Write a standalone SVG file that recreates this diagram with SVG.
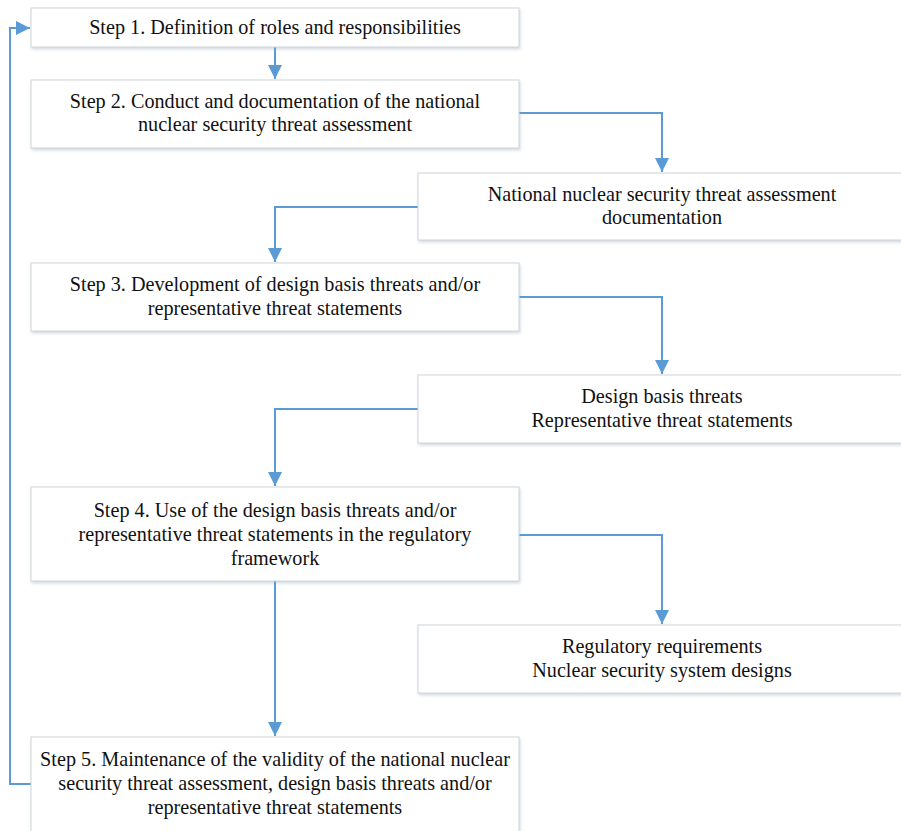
<svg xmlns="http://www.w3.org/2000/svg" width="901" height="831" viewBox="0 0 901 831">
<style>
.box{fill:#ffffff;stroke:#cfd4da;stroke-width:1;filter:url(#sh)}
.t{font-family:"Liberation Serif","Times New Roman",serif;font-size:20.2px;fill:#111;text-anchor:middle}
.c{fill:none;stroke:#5b9bd5;stroke-width:2}
</style>
<defs>
<filter id="sh" x="-5%" y="-20%" width="110%" height="150%">
<feDropShadow dx="1" dy="2" stdDeviation="1.5" flood-color="#8a9bb0" flood-opacity="0.35"/>
</filter>
<marker id="ah" viewBox="0 0 10 10" refX="10" refY="5" markerWidth="7" markerHeight="7" markerUnits="strokeWidth" orient="auto">
<path d="M0,0 L10,5 L0,10 z" fill="#5b9bd5"/>
</marker>
</defs>
<g id="connectors">
<path class="c" d="M275,47 V79" marker-end="url(#ah)"/>
<path class="c" d="M519,113 H662 V172" marker-end="url(#ah)"/>
<path class="c" d="M418,207 H275 V262" marker-end="url(#ah)"/>
<path class="c" d="M519,297 H662 V374" marker-end="url(#ah)"/>
<path class="c" d="M418,409 H275 V486" marker-end="url(#ah)"/>
<path class="c" d="M519,535 H662 V624" marker-end="url(#ah)"/>
<path class="c" d="M275,581 V736" marker-end="url(#ah)"/>
<path class="c" d="M31,784 H10 V28 H30" marker-end="url(#ah)"/>
</g>
<g id="step1">
<rect class="box" x="31" y="8" width="488" height="39"/>
<text class="t" x="275" y="34">Step 1. Definition of roles and responsibilities</text>
</g>
<g id="step2">
<rect class="box" x="31" y="80" width="488" height="68"/>
<text class="t" x="275" y="108">Step 2. Conduct and documentation of the national</text>
<text class="t" x="275" y="131">nuclear security threat assessment</text>
</g>
<g id="doc">
<rect class="box" x="418" y="173" width="490" height="67"/>
<text class="t" x="662" y="201">National nuclear security threat assessment</text>
<text class="t" x="662" y="224">documentation</text>
</g>
<g id="step3">
<rect class="box" x="31" y="263" width="488" height="68"/>
<text class="t" x="275" y="291">Step 3. Development of design basis threats and/or</text>
<text class="t" x="275" y="315">representative threat statements</text>
</g>
<g id="dbt">
<rect class="box" x="418" y="375" width="490" height="68"/>
<text class="t" x="662" y="403">Design basis threats</text>
<text class="t" x="662" y="427">Representative threat statements</text>
</g>
<g id="step4">
<rect class="box" x="31" y="487" width="488" height="94"/>
<text class="t" x="275" y="517">Step 4. Use of the design basis threats and/or</text>
<text class="t" x="275" y="541">representative threat statements in the regulatory</text>
<text class="t" x="275" y="565">framework</text>
</g>
<g id="reg">
<rect class="box" x="418" y="625" width="490" height="68"/>
<text class="t" x="662" y="653">Regulatory requirements</text>
<text class="t" x="662" y="677">Nuclear security system designs</text>
</g>
<g id="step5">
<rect class="box" x="31" y="737" width="488" height="100"/>
<text class="t" x="275" y="766">Step 5. Maintenance of the validity of the national nuclear</text>
<text class="t" x="275" y="790">security threat assessment, design basis threats and/or</text>
<text class="t" x="275" y="814">representative threat statements</text>
</g>
</svg>
